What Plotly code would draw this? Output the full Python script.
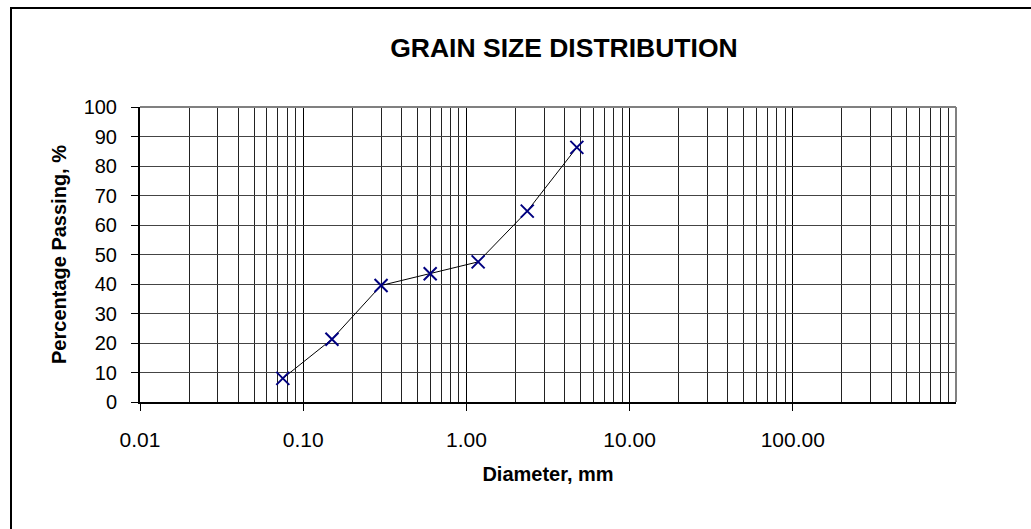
import plotly.graph_objects as go

# sieve sizes (mm) and percentage passing
diameter_mm = [0.075, 0.15, 0.30, 0.60, 1.18, 2.36, 4.75]
passing_pct = [8.0, 21.3, 39.5, 43.5, 47.5, 64.7, 86.3]

x_tick_vals = [0.01, 0.1, 1, 10, 100]
x_tick_text = ['0.01', '0.10', '1.00', '10.00', '100.00']

font = 'Liberation Sans, Arial, sans-serif'

fig = go.Figure()
fig.add_trace(go.Scatter(
    x=diameter_mm,
    y=passing_pct,
    mode='lines+markers',
    line=dict(color='black', width=1),
    marker=dict(symbol='x-thin', size=13, line=dict(color='#000080', width=2)),
    showlegend=False
))

fig.update_layout(
    width=1031,
    height=529,
    margin=dict(l=140, r=75, t=107, b=127),
    paper_bgcolor='white',
    plot_bgcolor='white',
    font=dict(family=font, color='black'),
    title=dict(
        text='<b>GRAIN SIZE DISTRIBUTION</b>',
        font=dict(size=26.5, family=font, color='black'),
        x=0.547, xanchor='center',
        y=1 - 48 / 529, yanchor='middle', yref='container'
    ),
    xaxis=dict(
        type='log',
        range=[-2, 3],
        tickvals=x_tick_vals,
        ticktext=x_tick_text,
        ticks='outside', ticklen=7, tickcolor='black', tickwidth=1,
        tickfont=dict(size=21),
        ticklabelstandoff=11,
        showline=True, linecolor='black', linewidth=2,
        showgrid=True, gridcolor='black', gridwidth=1,
        minor=dict(dtick='D1', showgrid=True, gridcolor='#222222', gridwidth=1, ticks=''),
        zeroline=False,
        title=dict(text='<b>Diameter, mm</b>', font=dict(size=20), standoff=17)
    ),
    yaxis=dict(
        range=[0, 100],
        tickmode='linear', tick0=0, dtick=10,
        ticks='outside', ticklen=7, tickcolor='black', tickwidth=1,
        tickfont=dict(size=20),
        ticklabelstandoff=10,
        showline=True, linecolor='black', linewidth=2,
        showgrid=True, gridcolor='#444444', gridwidth=1,
        zeroline=False,
        title=dict(text='<b>Percentage Passing, %</b>', font=dict(size=20), standoff=12)
    ),
    shapes=[
        # outer chart frame
        dict(type='rect', xref='paper', yref='paper',
             x0=(11 - 140) / 816, x1=1.2, y0=-0.6, y1=1 + (107 - 8) / 295,
             line=dict(color='black', width=2), layer='below'),
        # grey plot-area border on top and right
        dict(type='line', xref='paper', yref='paper', x0=0, x1=1, y0=1, y1=1,
             line=dict(color='#808080', width=2), layer='above'),
        dict(type='line', xref='paper', yref='paper', x0=1, x1=1, y0=0, y1=1,
             line=dict(color='#808080', width=2), layer='above'),
    ]
)

# drop the browser's default page margin so the figure sits at the window origin
fig.write_html('out.html', config={'displayModeBar': False},
               post_script="document.body.style.margin='0';")
